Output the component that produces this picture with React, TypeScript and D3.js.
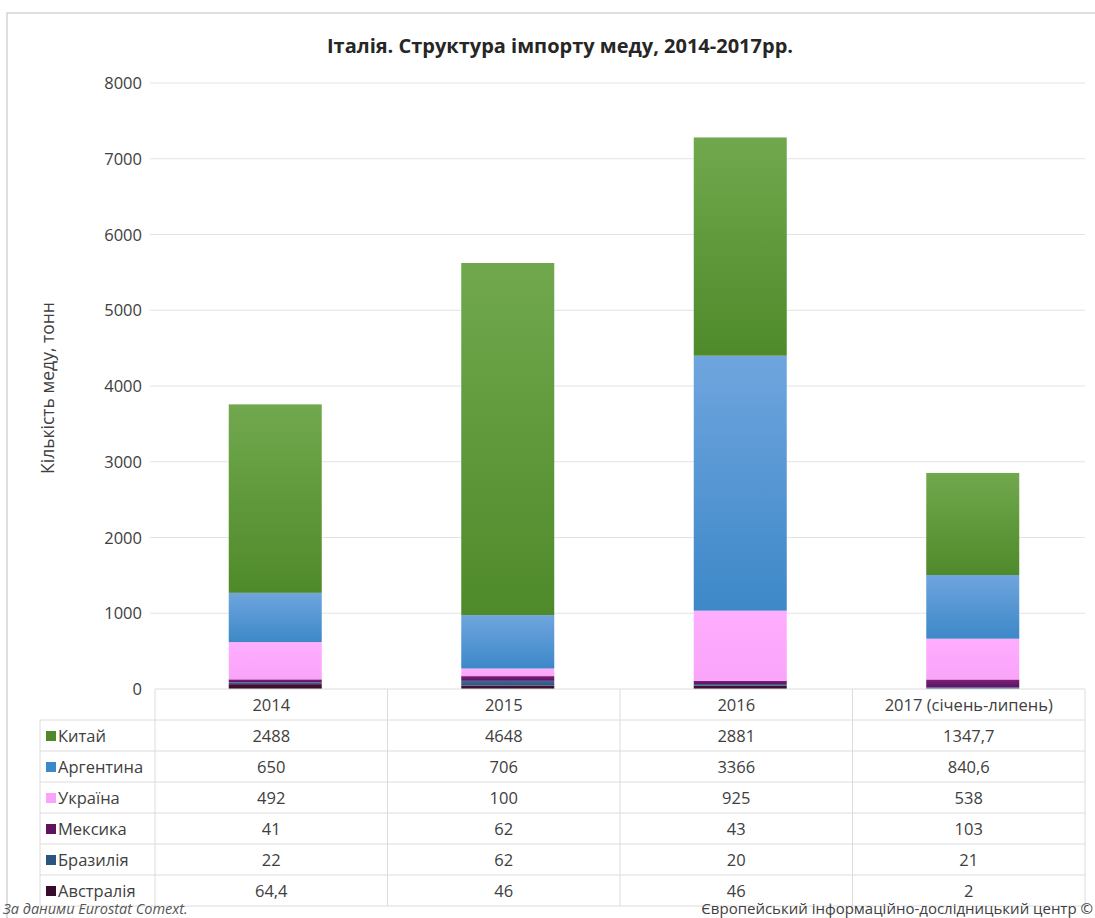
import React from "react";
import * as d3 from "d3";

const years = ["2014", "2015", "2016", "2017 (січень-липень)"];
// stack order bottom -> top
const australia = [64.4, 46, 46, 2];
const brazil = [22, 62, 20, 21];
const mexico = [41, 62, 43, 103];
const ukraine = [492, 100, 925, 538];
const argentina = [650, 706, 3366, 840.6];
const china = [2488, 4648, 2881, 1347.7];
const yTicks = [0, 1000, 2000, 3000, 4000, 5000, 6000, 7000, 8000];

const series = [
  { key: "aus", name: "Австралія", values: australia, top: "#4a1238", bottom: "#3a0a2c" },
  { key: "bra", name: "Бразилія", values: brazil, top: "#3a6a9a", bottom: "#2a5580" },
  { key: "mex", name: "Мексика", values: mexico, top: "#7d1f7d", bottom: "#5f135f" },
  { key: "ukr", name: "Україна", values: ukraine, top: "#ffadff", bottom: "#f9a4f9" },
  { key: "arg", name: "Аргентина", values: argentina, top: "#6fa5de", bottom: "#3d88c8" },
  { key: "chn", name: "Китай", values: china, top: "#71a84e", bottom: "#4f8a2a" },
];

const fmt = (v: number) => String(v).replace(".", ",");

export default function App() {
  const W = 1095, H = 918;
  const x = d3.scaleBand<string>().domain(years).range([155, 1085]).paddingInner(0.6).paddingOuter(0.3);
  const y = d3.scaleLinear().domain([0, 8000]).range([689, 83]);
  const stack = d3.stack<number>().keys(series.map((_, i) => String(i))).value((d, k) => series[+k].values[d]);
  const stacked = stack(years.map((_, i) => i));
  const font = "'Open Sans', 'Noto Sans', sans-serif";
  const colEdges = [155, ...years.map((yr) => (x(yr)! + x.bandwidth() / 2) + x.step() / 2)];
  const tableTop = 689;
  const rowH = 31;
  const tableRows = [...series].reverse();
  const tableBottom = tableTop + rowH * (tableRows.length + 1);
  const fs = 16.5;

  return (
    <div style={{ position: "absolute", left: 0, top: 0 }}>
      <svg width={W} height={H} style={{ display: "block", background: "#fff" }} fontFamily={font}>
        <defs>
          {series.map((s) => (
            <linearGradient key={s.key} id={"g" + s.key} x1="0" y1="0" x2="0" y2="1">
              <stop offset="0" stopColor={s.top} />
              <stop offset="1" stopColor={s.bottom} />
            </linearGradient>
          ))}
        </defs>
        <rect x={7} y={13} width={1200} height={1000} fill="none" stroke="#d4d4d4" strokeWidth={1.5} />
        <text x={560} y={53} textAnchor="middle" fontSize={20} fontWeight="bold" fill="#262626">
          Італія. Структура імпорту меду, 2014-2017рр.
        </text>
        {yTicks.map((t) => (
          <g key={t}>
            {t > 0 && <line x1={150} x2={1085} y1={y(t)} y2={y(t)} stroke="#e3e3e3" strokeWidth={1} />}
            <text x={142} y={y(t) + 6} textAnchor="end" fontSize={fs} fill="#404040">{t}</text>
          </g>
        ))}
        <text transform={`translate(54,${y(4000) + 2}) rotate(-90)`} textAnchor="middle" fontSize={17.5} fill="#404040">
          Кількість меду, тонн
        </text>
        {stacked.map((layer, si) => (
          <g key={si}>
            {layer.map((d, i) => (
              <rect key={i} x={x(years[i])! + 4} width={x.bandwidth()} y={y(d[1])} height={Math.max(0, y(d[0]) - y(d[1]))} fill={`url(#g${series[si].key})`} />
            ))}
          </g>
        ))}
        {/* table */}
        <g stroke="#dcdcdc" strokeWidth={1}>
          <line x1={155} x2={1085} y1={tableTop} y2={tableTop} />
          {tableRows.map((_, r) => (
            <line key={r} x1={40} x2={1085} y1={tableTop + rowH * (r + 1)} y2={tableTop + rowH * (r + 1)} />
          ))}
          <line x1={40} x2={1085} y1={tableBottom} y2={tableBottom} />
          <line x1={40} x2={40} y1={tableTop + rowH} y2={tableBottom} />
          {colEdges.map((cx, i) => (
            <line key={i} x1={cx} x2={cx} y1={tableTop} y2={tableBottom} />
          ))}
        </g>
        {years.map((yr, i) => (
          <text key={yr} x={(colEdges[i] + colEdges[i + 1]) / 2} y={tableTop + 22} textAnchor="middle" fontSize={fs} fill="#404040">{yr}</text>
        ))}
        {tableRows.map((s, r) => {
          const ty = tableTop + rowH * (r + 1) + 22;
          return (
            <g key={s.key}>
              <rect x={46} y={ty - 11} width={10} height={10} fill={s.bottom} />
              <text x={58} y={ty} fontSize={fs} fill="#404040">{s.name}</text>
              {s.values.map((v, i) => (
                <text key={i} x={(colEdges[i] + colEdges[i + 1]) / 2} y={ty} textAnchor="middle" fontSize={fs} fill="#404040">{fmt(v)}</text>
              ))}
            </g>
          );
        })}
        <text x={3} y={914} fontSize={14.5} fontStyle="italic" fill="#555">За даними Eurostat Comext.</text>
        <text x={1093} y={914} textAnchor="end" fontSize={15} fill="#404040">Європейський інформаційно-дослідницький центр ©</text>
      </svg>
    </div>
  );
}
